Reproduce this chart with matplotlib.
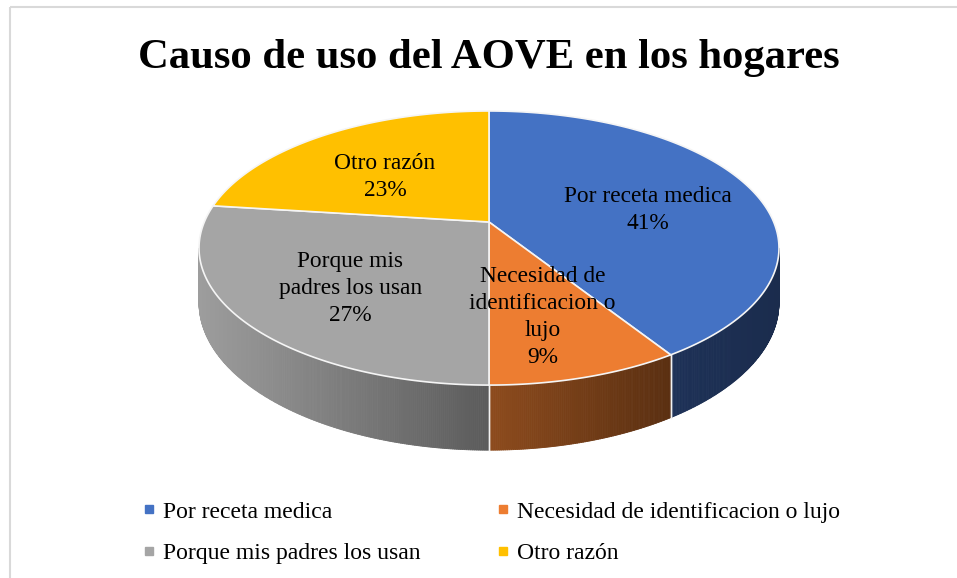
import numpy as np
import matplotlib
matplotlib.use('Agg')
import matplotlib.pyplot as plt
from matplotlib.patches import Polygon
from matplotlib.collections import PolyCollection
from matplotlib.lines import Line2D
from matplotlib.colors import to_rgb

# ---------------- data ----------------
title = 'Causo de uso del AOVE en los hogares'
categories = ['Por receta medica', 'Necesidad de identificacion o lujo',
              'Porque mis padres los usan', 'Otro razón']
values = [41, 9, 27, 23]
slice_labels = ['Por receta medica\n41%',
                'Necesidad de\nidentificacion o\nlujo\n9%',
                'Porque mis\npadres los usan\n27%',
                'Otro razón\n23%']
top_colors = ['#4472C4', '#ED7D31', '#A5A5A5', '#FFC000']
wall_light = ['#1d3157', '#8d4b1d', '#9d9d9d', '#b38600']
wall_dark = ['#1b2c4d', '#5a2f11', '#5b5b5b', '#805f00']

# ---------------- geometry (perspective projection of the disc) ----------------
CX, CY = 489.0, 222.0
A, B, K, D0 = 284.7, 132.1, 0.19, 52.7
SERIF = 'Liberation Serif'


def proj(theta_deg, r=1.0, drop=False):
    t = np.radians(theta_deg)
    den = 1 + K * r * np.cos(t)
    x = CX + A * r * np.sin(t) / den
    y = CY - B * r * np.cos(t) / den
    if drop:
        y = y + D0 / den
    return x, y


fig = plt.figure(figsize=(9.57, 5.78), dpi=100)
ax = fig.add_axes([0, 0, 1, 1])
ax.set_xlim(0, 957)
ax.set_ylim(578, 0)
ax.axis('off')

# frame
ax.plot([9.5, 9.5], [7, 578], color='#d9d9d9', lw=1.5, solid_capstyle='butt')
ax.plot([9.5, 957], [7, 7], color='#d9d9d9', lw=1.5, solid_capstyle='butt')

total = float(sum(values))
bounds = np.concatenate([[0], np.cumsum(values)]) / total * 360.0
th_r = np.degrees(np.arccos(-K))
th_l = 360.0 - th_r

# side walls
for i in range(len(values)):
    a0, a1 = max(bounds[i], th_r), min(bounds[i + 1], th_l)
    if a1 <= a0:
        continue
    n = max(int((a1 - a0) * 3), 4)
    ths = np.linspace(a0, a1, n + 1)
    xs, ys = proj(ths)
    xb, yb = proj(ths, drop=True)
    xmin, xmax = xs.min(), xs.max()
    polys, cols = [], []
    cl, cd = np.array(to_rgb(wall_light[i])), np.array(to_rgb(wall_dark[i]))
    for j in range(n):
        polys.append([(xs[j], ys[j]), (xs[j + 1], ys[j + 1]),
                      (xb[j + 1], yb[j + 1]), (xb[j], yb[j])])
        xm = 0.5 * (xs[j] + xs[j + 1])
        t = (xm - xmin) / (xmax - xmin) if xmax > xmin else 0.5
        cols.append(tuple(cl + (cd - cl) * t))
    pc = PolyCollection(polys, facecolors=cols, edgecolors=cols, linewidths=0.6, zorder=1)
    ax.add_collection(pc)
    for a in (bounds[i], bounds[i + 1]):
        if th_r < a < th_l:
            x0, y0 = proj(a)
            x1, y1 = proj(a, drop=True)
            ax.plot([x0, x1], [y0, y1], color='#f2f2f2', lw=1.0, zorder=3)

# top faces
for i in range(len(values)):
    ths = np.linspace(bounds[i], bounds[i + 1], 200)
    xs, ys = proj(ths)
    pts = [(CX, CY)] + list(zip(xs, ys))
    ax.add_patch(Polygon(pts, closed=True, facecolor=top_colors[i],
                         edgecolor='#f5f5f5', lw=1.2, zorder=2))

# data labels
for i in range(len(values)):
    mid = 0.5 * (bounds[i] + bounds[i + 1])
    x, y = proj(mid, r=0.6)
    ax.annotate(slice_labels[i], (x, y), xytext=(0, -7), textcoords='offset points',
                ha='center', va='center', fontsize=16.8, family=SERIF,
                color='#000000', linespacing=1.38, zorder=5)

# title
ax.text(489, 68, title, ha='center', va='baseline', fontsize=30.7,
        fontweight='bold', family=SERIF, color='#000000')

# legend
order = [0, 2, 1, 3]
handles = [Line2D([], [], marker='s', ls='', color=top_colors[i], markersize=6)
           for i in order]
labels = [categories[i] for i in order]
ax.legend(handles, labels, ncol=2, loc='upper left', bbox_to_anchor=(143, 501),
          bbox_transform=ax.transData, frameon=False, borderpad=0, borderaxespad=0,
          handlelength=0.5, handletextpad=0.35, columnspacing=3.23, labelspacing=0.85,
          prop={'family': SERIF, 'size': 17})

fig.savefig('out.png', dpi=100)
